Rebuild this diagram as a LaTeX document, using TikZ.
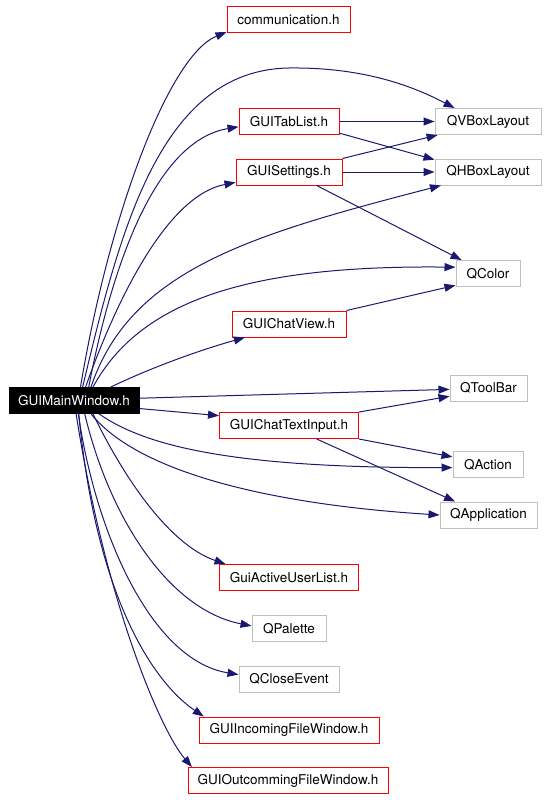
\documentclass[tikz,border=0pt]{standalone}
\usepackage{fontspec}
\setsansfont{TeX Gyre Heros}
\usetikzlibrary{arrows.meta}
\definecolor{edgeblue}{RGB}{25,25,112}
\definecolor{qtgray}{RGB}{191,191,191}

\begin{document}
\begin{tikzpicture}[x=1pt,y=-1pt, font=\sffamily\fontsize{13.5}{15}\selectfont,
  hfile/.style={draw=red, line width=1pt, minimum height=26pt, inner sep=0pt},
  qfile/.style={draw=qtgray, line width=1pt, minimum height=26pt, inner sep=0pt},
  dep/.style={draw=edgeblue, line width=1pt, -{Triangle[length=11pt,width=8pt]}}]
  \useasboundingbox (0,0) rectangle (547,800);

  % root
  \node[fill=black, draw=black, text=white, minimum width=130pt, minimum height=26pt, inner sep=0pt] (main) at (74,400.5) {GUIMainWindow.h};

  % own headers
  \node[hfile, minimum width=123pt] (comm) at (288.5,20) {communication.h};
  \node[hfile, minimum width=100pt] (tablist) at (289,121.5) {GUITabList.h};
  \node[hfile, minimum width=106pt] (settings) at (289,172) {GUISettings.h};
  \node[hfile, minimum width=114pt] (chatview) at (289,324) {GUIChatView.h};
  \node[hfile, minimum width=139pt] (textinput) at (289,425.5) {GUIChatTextInput.h};
  \node[hfile, minimum width=139pt] (activeuser) at (289,577.5) {GuiActiveUserList.h};
  \node[hfile, minimum width=180pt] (incoming) at (289,730) {GUIIncomingFileWindow.h};
  \node[hfile, minimum width=200pt] (outcomming) at (288,780.5) {GUIOutcommingFileWindow.h};

  % Qt headers
  \node[qfile, minimum width=74pt] (palette) at (289,628.5) {QPalette};
  \node[qfile, minimum width=100pt] (closeevent) at (289,679) {QCloseEvent};
  \node[qfile, minimum width=106pt] (vbox) at (488,121.5) {QVBoxLayout};
  \node[qfile, minimum width=106pt] (hbox) at (488,172) {QHBoxLayout};
  \node[qfile, minimum width=64pt] (color) at (488,273.5) {QColor};
  \node[qfile, minimum width=77pt] (toolbar) at (488.5,388) {QToolBar};
  \node[qfile, minimum width=70pt] (action) at (488,464.5) {QAction};
  \node[qfile, minimum width=97pt] (application) at (488.5,515) {QApplication};

  % includes of GUIMainWindow.h
  \draw[dep] (main.64) .. controls (110,210) and (170,55) .. (comm.191);
  \draw[dep] (main.57) .. controls (120,230) and (160,70) .. (289,68) .. controls (370,67) and (420,90) .. (vbox.158);
  \draw[dep] (main.42) .. controls (115,250) and (160,140) .. (tablist.186);
  \draw[dep] (main.49) .. controls (120,290) and (170,195) .. (settings.191);
  \draw[dep] (main.38) .. controls (130,270) and (250,235) .. (hbox.196);
  \draw[dep] (main.35) .. controls (140,300) and (250,265) .. (color.169);
  \draw[dep] (main.20) .. controls (150,368) and (200,350) .. (chatview.197);
  \draw[dep] (main.2) -- (toolbar.182);
  \draw[dep] (main.353) -- (textinput.172);
  \draw[dep] (main.332) .. controls (150,450) and (250,468) .. (action.185);
  \draw[dep] (main.322) .. controls (140,475) and (280,505) .. (application.west);
  \draw[dep] (main.325) .. controls (125,480) and (170,545) .. (activeuser.168);
  \draw[dep] (main.309) .. controls (110,520) and (170,610) .. (palette.176);
  \draw[dep] (main.288) .. controls (95,530) and (150,660) .. (closeevent.175);
  \draw[dep] (main.290) .. controls (95,590) and (150,680) .. (incoming.171);
  \draw[dep] (main.279) .. controls (105,600) and (160,730) .. (outcomming.172);

  % second level
  \draw[dep] (tablist.east) -- (vbox.west);
  \draw[dep] (tablist.347) -- (hbox.167);
  \draw[dep] (settings.north east) -- (vbox.195);
  \draw[dep] (settings.east) -- (hbox.west);
  \draw[dep] (settings.334) -- (color.153);
  \draw[dep] (chatview.north east) -- (color.200);
  \draw[dep] (textinput.north east) -- (toolbar.192);
  \draw[dep] (textinput.south east) -- (action.168);
  \draw[dep] (textinput.334) -- (application.158);
\end{tikzpicture}
\end{document}
